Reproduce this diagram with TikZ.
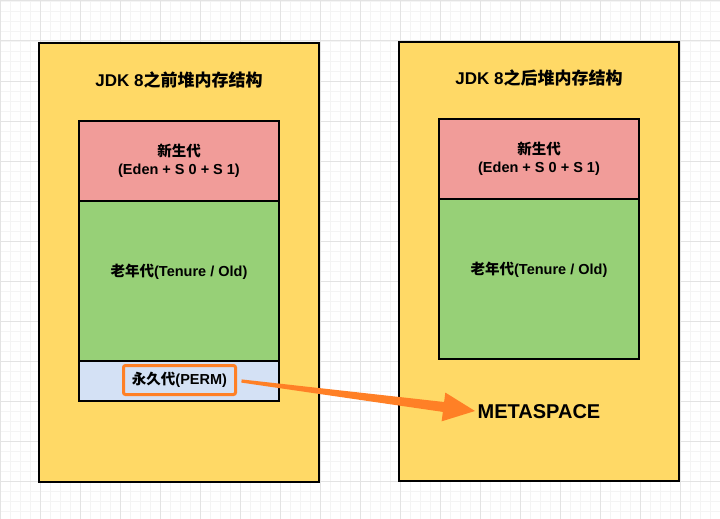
\documentclass[tikz,border=0pt]{standalone}
\usepackage{fontspec}
\setmainfont{Liberation Sans}
\newfontfamily\cjk{Noto Sans CJK SC}
\usetikzlibrary{calc}
\definecolor{heapyellow}{HTML}{FFD966}
\definecolor{youngpink}{HTML}{F19C99}
\definecolor{oldgreen}{HTML}{97D077}
\definecolor{permblue}{HTML}{D4E1F5}
\definecolor{arroworange}{HTML}{FF8026}
\definecolor{gridmajor}{HTML}{E3E3E3}
\definecolor{gridminor}{HTML}{F4F4F4}
\begin{document}
\begin{tikzpicture}[x=1pt,y=-1pt,
  minorgrid/.style={draw=gridminor,line width=0.8pt},
  majorgrid/.style={draw=gridmajor,line width=1pt},
  outerbox/.style={draw=black,line width=2pt,fill=heapyellow,anchor=north west,minimum width=280pt,minimum height=439pt,inner sep=0pt,outer sep=0pt},
  genbox/.style={draw=black,line width=2pt,anchor=north west,minimum width=200pt,inner sep=0pt,outer sep=0pt},
  gentext/.style={inner sep=0pt,align=center,font=\bfseries\fontsize{14.5}{18}\selectfont},
  titletext/.style={font=\bfseries\fontsize{17}{20}\selectfont,inner sep=0pt},
  permbox/.style={draw=arroworange,line width=3pt,rounded corners=2pt,minimum width=112pt,minimum height=29pt,inner sep=0pt,font=\bfseries\fontsize{14.5}{17}\selectfont},
  bigarrow/.style={fill=arroworange}
]
\useasboundingbox (0,0) rectangle (720,519);
\fill[white] (0,0) rectangle (720,519);
\foreach \x in {0,10,...,720} \draw[minorgrid] (\x,0) -- (\x,519);
\foreach \y in {1,11,...,519} \draw[minorgrid] (0,\y) -- (720,\y);
\foreach \x in {0,40,...,720} \draw[majorgrid] (\x,0) -- (\x,519);
\foreach \y in {1,41,...,519} \draw[majorgrid] (0,\y) -- (720,\y);

% left heap
\node[outerbox] (leftheap) at (39,43) {};
\node[titletext] (lefttitle) at (179,80) {JDK 8{\cjk 之前堆内存结构}};
\node[genbox,fill=youngpink,minimum height=80pt] (leftyoung) at (79,121) {};
\node[genbox,fill=oldgreen,minimum height=160pt] (leftold) at (79,201) {};
\node[genbox,fill=permblue,minimum height=40pt] (leftperm) at (79,361) {};
\node[gentext] (leftyoungtext) at (179,161) {{\cjk 新生代}\\(Eden + S 0 + S 1)};
\node[gentext] (leftoldtext) at (179,271.5) {{\cjk 老年代}(Tenure / Old)};
\node[permbox] (perm) at (179.5,380) {{\cjk 永久代}(PERM)};

% right heap
\node[outerbox] (rightheap) at (399,42) {};
\node[titletext] (righttitle) at (539,78) {JDK 8{\cjk 之后堆内存结构}};
\node[genbox,fill=youngpink,minimum height=80pt] (rightyoung) at (439,119) {};
\node[genbox,fill=oldgreen,minimum height=160pt] (rightold) at (439,199) {};
\node[gentext] (rightyoungtext) at (539,159) {{\cjk 新生代}\\(Eden + S 0 + S 1)};
\node[gentext] (rightoldtext) at (539,269.5) {{\cjk 老年代}(Tenure / Old)};
\node[font=\bfseries\fontsize{20}{24}\selectfont,inner sep=0pt] (meta) at (539,412) {METASPACE};

% tapered arrow
\coordinate (arrowstart) at (241.5,381);
\coordinate (arrowtip) at (475,411);
\coordinate (arrowbase) at ($(arrowstart)!0.865!(arrowtip)$);
\fill[bigarrow]
  ($(arrowstart)!1.6pt!90:(arrowtip)$) --
  ($(arrowbase)!5pt!-90:(arrowstart)$) --
  ($(arrowbase)!14.5pt!-90:(arrowstart)$) --
  (arrowtip) --
  ($(arrowbase)!14.5pt!90:(arrowstart)$) --
  ($(arrowbase)!5pt!90:(arrowstart)$) --
  ($(arrowstart)!1.6pt!-90:(arrowtip)$) -- cycle;
\end{tikzpicture}
\end{document}
